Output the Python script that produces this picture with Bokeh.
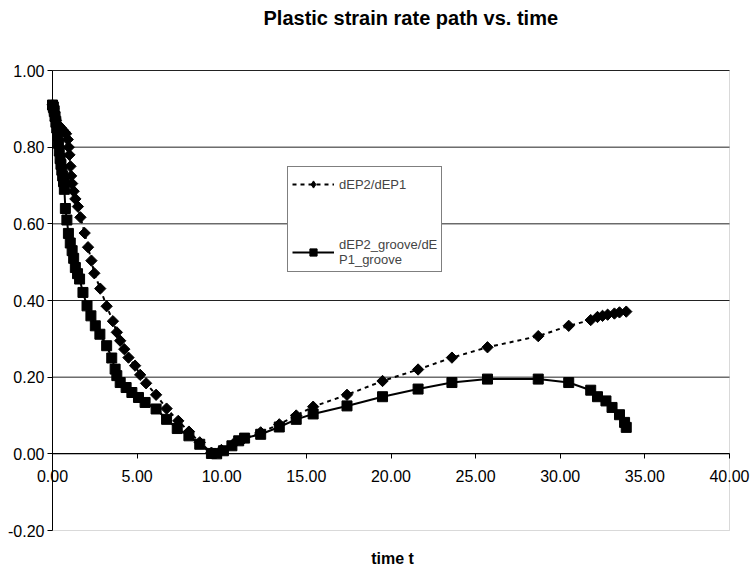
import math
from bokeh.plotting import figure
from bokeh.models import (Range1d, FixedTicker, NumeralTickFormatter, Legend, LegendItem,
                          Label, BoxAnnotation)
from bokeh.embed import file_html
from bokeh.resources import INLINE

# ---- data ----
t_ratio = [0.0, 0.05, 0.1, 0.15, 0.2, 0.3, 0.4, 0.5, 0.6, 0.7, 0.8, 0.9, 0.96, 1.0, 1.06, 1.1,
           1.16, 1.25, 1.35, 1.5, 1.65, 1.9, 2.1, 2.3, 2.47, 2.82, 3.2, 3.57, 3.8, 4.0, 4.24,
           4.49, 4.88, 5.18, 5.53, 6.12, 6.74, 7.43, 8.06, 8.7, 9.39, 9.98, 10.67, 11.25, 12.3,
           13.4, 14.4, 15.4, 17.4, 19.5, 21.6, 23.6, 25.7, 28.7, 30.5, 31.8, 32.2, 32.5, 32.8,
           33.2, 33.5, 33.9]
ratio = [0.91, 0.90, 0.89, 0.88, 0.87, 0.86, 0.855, 0.85, 0.845, 0.84, 0.835, 0.82, 0.80, 0.78,
         0.75, 0.725, 0.705, 0.685, 0.665, 0.645, 0.617, 0.576, 0.539, 0.504, 0.471, 0.431,
         0.385, 0.346, 0.317, 0.295, 0.273, 0.251, 0.23, 0.206, 0.184, 0.154, 0.118, 0.086,
         0.058, 0.03, 0.003, 0.01, 0.025, 0.038, 0.056, 0.077, 0.10, 0.123, 0.154, 0.19, 0.22,
         0.251, 0.278, 0.307, 0.334, 0.349, 0.357, 0.36, 0.363, 0.366, 0.369, 0.371]

t_groove = [0.0, 0.05, 0.1, 0.15, 0.2, 0.25, 0.3, 0.35, 0.4, 0.45, 0.5, 0.55, 0.6, 0.65, 0.7,
            0.76, 0.85, 0.94, 1.05, 1.16, 1.25, 1.35, 1.48, 1.6, 1.8, 2.04, 2.27, 2.53, 2.8,
            3.2, 3.5, 3.7, 3.8, 4.0, 4.35, 4.69, 5.08, 5.47, 6.12, 6.74, 7.37, 8.06, 8.7, 9.39,
            9.7, 10.1, 10.6, 11.0, 11.35, 12.3, 13.4, 14.4, 15.4, 17.4, 19.5, 21.6, 23.6, 25.7,
            28.7, 30.5, 31.8, 32.2, 32.7, 33.06, 33.5, 33.8, 33.9]
groove = [0.91, 0.905, 0.895, 0.88, 0.865, 0.85, 0.83, 0.81, 0.79, 0.77, 0.755, 0.74, 0.725,
          0.71, 0.69, 0.64, 0.61, 0.575, 0.55, 0.53, 0.51, 0.486, 0.47, 0.456, 0.421, 0.386,
          0.36, 0.334, 0.312, 0.282, 0.25, 0.221, 0.204, 0.186, 0.173, 0.16, 0.147, 0.134,
          0.117, 0.09, 0.066, 0.047, 0.025, 0.001, 0.0, 0.008, 0.021, 0.034, 0.041, 0.051,
          0.07, 0.09, 0.104, 0.125, 0.149, 0.169, 0.186, 0.195, 0.195, 0.186, 0.166, 0.149,
          0.138, 0.121, 0.102, 0.082, 0.069]

x_ticks = [0, 5, 10, 15, 20, 25, 30, 35, 40]
y_ticks = [-0.2, 0.0, 0.2, 0.4, 0.6, 0.8, 1.0]
X_MIN, X_MAX = 0, 40
Y_MIN, Y_MAX = -0.2, 1.0

# ---- layout (pixels on the canvas) ----
FONT = "Liberation Sans"
W, H = 750, 571
PL, PR, PT, PB = 52, 729, 70, 530      # plot-area edges
sx = (PR - PL) / (X_MAX - X_MIN)
sy = (PB - PT) / (Y_MAX - Y_MIN)
x_range = Range1d(X_MIN - PL / sx, X_MAX + (W - PR) / sx)
y_range = Range1d(Y_MIN - (H - PB) / sy, Y_MAX + PT / sy)

p = figure(width=W, height=H, output_backend="svg", toolbar_location=None,
           x_range=x_range, y_range=y_range,
           min_border_left=0, min_border_right=0, min_border_top=0, min_border_bottom=0)
p.background_fill_color = "white"
p.border_fill_color = "white"
p.outline_line_color = None
p.title.visible = False
p.xgrid.visible = False
p.ygrid.visible = False

# plot-area border
p.add_layout(BoxAnnotation(left=X_MIN, right=X_MAX, bottom=Y_MIN, top=Y_MAX,
                           fill_alpha=0, line_color="#808080", line_width=1, level="underlay"))

# horizontal grid lines at the y ticks
g_y = [v for v in y_ticks if v > Y_MIN]
p.segment(x0=[X_MIN] * len(g_y), x1=[X_MAX] * len(g_y), y0=g_y, y1=g_y,
          line_color="#222222", line_width=1)

# axes crossing at zero
p.xaxis.fixed_location = 0
p.xaxis.bounds = (X_MIN, X_MAX)
p.xaxis.ticker = FixedTicker(ticks=x_ticks)
p.xaxis.formatter = NumeralTickFormatter(format="0.00")
p.xaxis.major_label_standoff = 11
p.yaxis.fixed_location = 0
p.yaxis.bounds = (Y_MIN, Y_MAX)
p.yaxis.ticker = FixedTicker(ticks=y_ticks)
p.yaxis.formatter = NumeralTickFormatter(format="0.00")
p.yaxis.major_label_standoff = 3
for ax in (p.xaxis, p.yaxis):
    ax.major_tick_out = 5
    ax.major_tick_in = 0
    ax.minor_tick_line_color = None
    ax.axis_line_color = "black"
    ax.major_tick_line_color = "black"
    ax.major_label_text_font = FONT
    ax.major_label_text_font_size = "16px"
    ax.major_label_text_color = "black"

# title and axis title
p.add_layout(Label(x=263, y=H - 6, x_units="screen", y_units="screen",
                   text="Plastic strain rate path vs. time", text_font=FONT,
                   text_font_size="20px", text_font_style="bold", text_baseline="top",
                   text_align="left", text_color="black"))
p.add_layout(Label(x=392, y=H - 558, x_units="screen", y_units="screen",
                   text="time t", text_font=FONT, text_font_size="16px",
                   text_font_style="bold", text_baseline="middle", text_align="center",
                   text_color="black"))

# series
l1 = p.line(t_ratio, ratio, line_color="black", line_width=2, line_dash="4 4")
s1 = p.scatter(t_ratio, ratio, marker="square", angle=math.pi / 4, size=8,
               fill_color="black", line_color="black")
s1_leg = p.scatter(t_ratio, ratio, marker="diamond", size=8,
                   fill_color="black", line_color="black")
l2 = p.line(t_groove, groove, line_color="black", line_width=2)
s2 = p.scatter(t_groove, groove, marker="square", size=10,
               fill_color="black", line_color="black")
s2_leg = p.scatter(t_groove, groove, marker="square", size=7,
                   fill_color="black", line_color="black")

legend = Legend(items=[LegendItem(label="dEP2/dEP1", renderers=[l1, s1_leg]),
                       LegendItem(label="dEP2_groove/dE\nP1_groove", renderers=[l2, s2_leg])],
                location=(287, H - 272), orientation="vertical")
legend.border_line_color = "black"
legend.border_line_width = 1
legend.background_fill_color = "white"
legend.background_fill_alpha = 1.0
legend.label_text_font = FONT
legend.label_text_font_size = "13px"
legend.glyph_width = 42
legend.glyph_height = 18
legend.label_height = 26
legend.label_standoff = 5
legend.label_width = 90
legend.padding = 4
legend.spacing = 40
legend.margin = 0
p.add_layout(legend, "center")

open("out.html", "w").write(file_html(p, INLINE))
